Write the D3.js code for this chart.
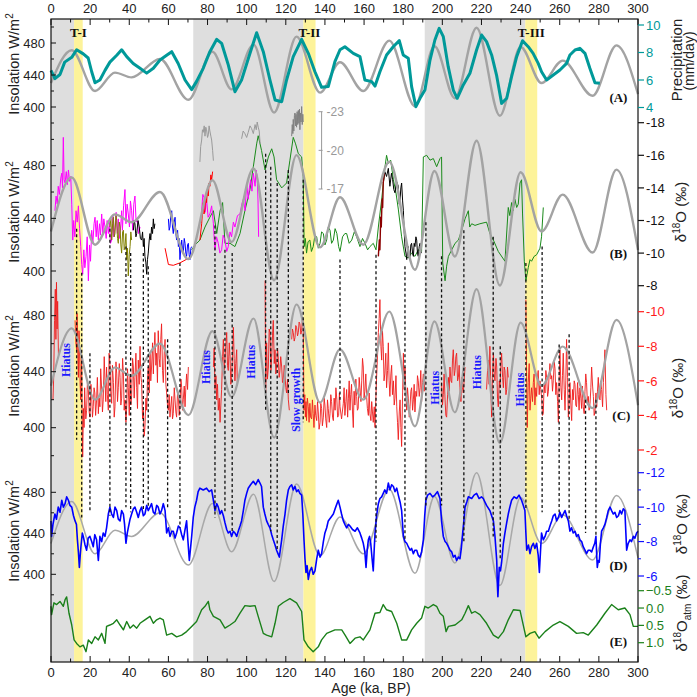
<!DOCTYPE html>
<html><head><meta charset="utf-8">
<script src="https://cdn.jsdelivr.net/npm/d3@7/dist/d3.min.js"></script>
<style>body{margin:0;background:#fff}svg{display:block}</style>
</head><body><svg id="c" width="697" height="697" font-family="Arial, 'Liberation Sans', sans-serif"></svg>
<script>
// ---------- DATA ----------
const ageTicks = d3.range(0, 301, 20);
const grayBands = [[0, 11.8], [72.7, 129], [191, 242.4]];
const yellowBands = [[11.8, 16.2], [129, 135.2], [242.4, 248.5]];
const terminations = [["T-I", 14], ["T-II", 132.1], ["T-III", 245.5]];

// insolation extrema (ka, W/m2)
const insolation = [[0,430],[10.6,471],[22.5,420],[32.7,443],[41.2,437],[55.7,460],[70.2,409],[82.5,469],[92.3,422],[103.5,478],[114,393],[125.5,488],[137.5,418],[147.7,456],[159.6,420],[172.9,483],[186,401],[196,476],[206.4,411],[217.5,499],[229.4,389],[240,475],[250.7,430],[261.5,458],[276.8,414],[289,477],[300,416]];

// (A) precipitation mm/day
const precip = [[0,6.7],[2,6.1],[4.6,6.4],[7,7.3],[10.6,7.65],[13.1,8.2],[16.5,7.9],[19,7.6],[20.8,6.6],[22.5,5.8],[25,6.0],[27.6,6.7],[30.1,7.3],[33.6,7.8],[36.1,8.2],[38.7,7.7],[42,7.2],[45.5,6.85],[48.9,6.5],[52.3,6.85],[55.7,7.45],[59.1,7.8],[61.7,8.06],[65,7.2],[68.5,6.0],[71.9,5.3],[74.4,5.9],[77.8,6.85],[81.2,8.06],[84.7,8.96],[87.2,8.67],[90.6,7.1],[94,5.15],[97.4,6.0],[101.7,7.94],[105.1,9.44],[108.5,8.06],[111.9,6.0],[114.5,4.55],[117.9,4.42],[120.4,6.0],[123.8,7.7],[128.1,8.96],[131.5,7.94],[134.9,6.6],[138.3,5.47],[141.7,5.52],[145.1,7.33],[147.7,8.2],[150.2,8.42],[154.5,7.94],[157.9,7.7],[160.4,6.0],[163.9,5.88],[165.6,5.56],[168.1,6.6],[171.5,7.82],[174.9,8.42],[178,8.86],[180,7.82],[182.6,7.58],[184.3,5.52],[186.5,4.06],[188.6,4.67],[191.1,5.27],[193.7,7.45],[196.2,8.91],[198.4,9.76],[200.5,9.15],[203,6.97],[205.6,5.27],[207.6,4.67],[210.7,5.64],[214.1,6.49],[217.5,8.18],[220.1,9.27],[222.6,8.79],[225.2,7.82],[227.7,6.36],[230.3,4.3],[232.9,4.67],[235.4,6.24],[238,7.7],[241,8.86],[243.9,8.42],[246.4,7.94],[249,7.21],[250.7,6.6],[253.3,6.0],[256.7,6.36],[260.1,6.73],[263.5,7.21],[265.2,7.82],[267.8,8.18],[270.3,8.3],[272.9,7.94],[275.4,6.85],[278,5.8],[280.5,5.76]];

// (B) speleothem d18O records
const magentaB1 = [[2.0,-12.6],[2.6,-13.5],[3.2,-13.0],[3.7,-14.1],[4.3,-13.6],[5.0,-14.6],[5.5,-14.9],[5.9,-14.0],[6.3,-17.1],[6.7,-14.5],[7.2,-14.3],[7.8,-15.0],[8.4,-14.2],[8.9,-15.1],[9.5,-14.4],[10.1,-14.7],[10.6,-13.0],[11.1,-10.8],[11.6,-12.0],[12.2,-11.0],[12.8,-12.6],[13.4,-11.9],[14.0,-12.9],[14.6,-11.5],[15.2,-10.4],[15.7,-9.3],[16.2,-8.7],[16.8,-10.2],[17.3,-9.1],[17.9,-9.8],[18.5,-11.0],[19.1,-8.3],[19.7,-10.5],[20.2,-9.5],[20.8,-11.4],[21.4,-10.6],[22.0,-11.8],[22.5,-12.2],[23.1,-11.0],[23.6,-12.0],[24.2,-10.8],[24.8,-11.8],[25.3,-11.1],[25.9,-12.4],[26.5,-11.2],[27.0,-12.1],[27.6,-11.6],[28.2,-10.9],[28.7,-12.0],[29.3,-11.2],[29.9,-11.9],[30.4,-10.6],[31.0,-10.8],[31.6,-12.3],[32.1,-11.0],[32.7,-11.6],[33.3,-12.5],[33.9,-11.2],[34.4,-12.1],[35.0,-10.9],[35.6,-11.6],[36.1,-12.6],[36.5,-11.4],[37.1,-12.9],[37.8,-13.9],[38.3,-11.8],[38.9,-13.0],[39.5,-12.4],[40.1,-11.6],[40.6,-13.2],[41.2,-12.6],[41.8,-11.4],[42.3,-13.0],[42.9,-13.5],[43.5,-11.9],[44.1,-12.0],[44.7,-11.2],[45.5,-11.6]];
const oliveB = [[30.1,-11.6],[30.6,-12.1],[31.0,-10.8],[31.5,-11.8],[31.9,-12.2],[32.3,-11.0],[32.7,-11.2],[33.2,-12.3],[33.6,-12.0],[34.0,-10.9],[34.4,-10.6],[34.9,-11.9],[35.3,-11.6],[35.7,-10.5],[36.1,-10.0],[36.6,-11.3],[37.0,-11.4],[37.4,-10.2],[37.8,-10.4],[38.3,-11.2],[38.7,-9.6],[39.1,-10.3],[39.5,-8.6],[40.0,-9.9],[40.4,-10.4],[40.8,-11.3],[41.2,-10.8]];
const blackB1 = [[42.1,-11.4],[42.5,-12.0],[42.9,-11.8],[43.4,-11.0],[43.8,-11.2],[44.5,-12.0],[45.1,-11.6],[45.7,-10.9],[46.3,-10.8],[46.8,-11.3],[47.2,-10.4],[47.6,-10.9],[48.0,-9.8],[48.5,-9.4],[48.9,-8.7],[49.3,-9.6],[49.7,-10.0],[50.2,-10.8],[50.6,-11.2],[51.0,-10.8],[51.4,-11.6],[51.9,-11.2],[52.3,-12.1],[52.7,-11.5],[53.1,-11.8]];
const blueB = [[60.0,-12.1],[60.4,-11.4],[60.8,-11.6],[61.2,-12.3],[61.7,-12.6],[62.1,-11.6],[62.5,-11.2],[63.0,-11.9],[63.4,-12.2],[63.8,-11.2],[64.2,-10.8],[64.7,-11.4],[65.1,-10.4],[65.5,-10.9],[65.9,-9.6],[66.4,-10.3],[66.8,-10.8],[67.2,-10.2],[67.6,-10.0],[68.1,-10.9],[68.5,-10.6],[68.9,-10.0],[69.3,-9.8],[69.8,-10.5],[70.2,-10.6],[70.6,-9.9],[71.0,-9.6],[71.5,-10.3],[71.9,-10.4]];
const redB1 = [[58.3,-10.3],[60.0,-9.3],[62.5,-9.25],[65.9,-9.4],[69.0,-9.6],[71.9,-9.8]];
const redB2 = [[76.1,-10.8],[77.0,-11.8],[77.4,-12.5],[77.8,-13.1],[78.2,-12.4],[78.7,-12.7],[79.1,-13.6],[79.5,-13.1],[80.0,-13.9],[80.4,-13.5],[80.8,-14.3],[81.2,-14.1],[81.7,-14.8],[82.1,-14.5],[82.6,-15.0]];
const magentaB2 = [[77.0,-12.6],[77.6,-13.6],[78.2,-13.4],[78.8,-12.5],[79.5,-13.3],[80.3,-12.2],[81.2,-12.4],[82.1,-12.9],[83.0,-11.8],[83.4,-10.9],[83.8,-10.2],[84.6,-11.0],[85.5,-10.6],[86.3,-10.0],[87.2,-10.2],[88.0,-11.1],[88.9,-10.8],[89.8,-10.1],[90.6,-10.4],[91.5,-11.3],[92.3,-11.0],[93.2,-11.9],[94.0,-11.6],[95.3,-12.3],[96.6,-12.4],[97.5,-13.0],[98.3,-13.3],[99.2,-12.6],[100.0,-14.3],[100.8,-13.3],[101.4,-14.0],[102.0,-14.5],[102.7,-13.8],[103.4,-14.9],[104.3,-14.1],[104.8,-15.1],[105.4,-14.7],[105.8,-13.2],[106.1,-11.0]];
const greenB = [[71.9,-10.2],[73.6,-10.5],[76.1,-10.8],[78.7,-11.6],[81.2,-12.2],[83.0,-12.6],[84.7,-11.2],[86.4,-12.6],[87.7,-13.1],[88.9,-10.6],[91.5,-10.6],[94.0,-10.4],[96.6,-11.2],[99.1,-12.6],[101.7,-13.9],[103.4,-15.3],[105.1,-16.7],[105.9,-17.2],[107.6,-16.3],[109.4,-15.1],[111.1,-15.9],[112.8,-16.4],[114.0,-15.9],[115.3,-14.5],[117.9,-14.0],[120.4,-14.3],[122.1,-15.7],[123.8,-17.1],[125.0,-16.7],[126.4,-16.1],[128.1,-15.9],[128.9,-14.7],[129.4,-10.4],[130.0,-10.9],[130.6,-10.0],[131.4,-10.7],[132.3,-10.8],[133.1,-10.1],[134.0,-10.4],[134.9,-11.1],[135.8,-11.0],[136.6,-10.3],[137.5,-10.6],[138.3,-11.3],[139.2,-11.2],[140.0,-10.5],[140.9,-10.8],[141.7,-11.6],[142.6,-11.4],[143.4,-10.6],[144.3,-10.8],[145.2,-11.5],[146.1,-11.2],[147.0,-10.4],[147.7,-10.1],[149.0,-11.0],[150.2,-11.2],[151.1,-11.2],[152.4,-10.6],[153.7,-10.8],[155.0,-11.3],[156.2,-11.0],[157.9,-10.4],[159.2,-10.9],[160.5,-10.6],[161.8,-10.2],[163.0,-10.4],[164.7,-10.6],[166.1,-10.2],[167.3,-11.6],[169.0,-13.3],[170.7,-15.3],[171.5,-16.0],[172.4,-15.5],[173.6,-15.7],[175.0,-14.5],[176.3,-13.7],[177.5,-12.7],[179.2,-11.0],[180.9,-9.8],[182.6,-9.7],[184.3,-10.0],[186.0,-9.8],[187.7,-10.2],[189.4,-10.1],[190.3,-15.9],[192.0,-16.0],[193.7,-15.7],[195.4,-15.8],[197.1,-15.3],[198.8,-15.8],[199.6,-15.9],[200.2,-9.4],[201.4,-8.3],[202.2,-9.2],[203.1,-9.8],[204.8,-10.2],[206.5,-10.6],[208.2,-10.8],[209.9,-11.4],[211.6,-12.1],[213.3,-12.6],[214.0,-11.6],[215.0,-11.8],[216.7,-11.7],[219.2,-11.8],[222.6,-11.9],[224.3,-11.2],[226.1,-10.8],[228.6,-10.1],[232.0,-9.5],[233.7,-12.8],[234.5,-12.3],[235.4,-13.1],[236.2,-12.6],[237.1,-13.3],[238.0,-12.8],[238.8,-13.0],[239.7,-14.3],[240.5,-14.5],[241.0,-12.4],[241.9,-9.5],[242.7,-8.3],[243.9,-9.1],[244.8,-9.6],[245.6,-9.5],[246.9,-9.8],[248.2,-9.9],[249.9,-10.3],[250.7,-11.0],[251.6,-12.8]];
const blackB2 = [[169.8,-14.3],[170.6,-15.0],[171.5,-14.7],[172.4,-15.2],[173.2,-14.1],[174.0,-14.9],[174.6,-14.5],[175.2,-13.9],[175.8,-13.7],[176.6,-14.4],[177.5,-14.1],[178.0,-13.0],[178.4,-13.3],[178.8,-14.0],[179.2,-14.3],[179.7,-13.2],[180.1,-12.6],[180.5,-11.3],[180.9,-10.4],[181.4,-10.0],[181.8,-9.6],[182.2,-10.2],[182.6,-10.4],[183.0,-9.7],[183.5,-9.8],[183.9,-10.5],[184.3,-10.6],[184.8,-10.0],[185.2,-9.8],[185.6,-10.6],[186.0,-10.4],[186.5,-11.0],[186.9,-10.8],[187.3,-10.0],[187.7,-9.8],[188.2,-10.4],[188.6,-10.6],[189.0,-10.1],[189.4,-10.0]];
const darkRedB = [[167.3,-9.8],[167.8,-10.8],[168.1,-10.2],[168.5,-12.2],[168.8,-11.6],[169.2,-13.3],[169.5,-12.8],[169.8,-14.3],[170.3,-14.9]];
// grey inset (secondary d18O axis, -23..-17)
const grayInset1 = [[76.1,-19.1],[76.5,-20.3],[77.0,-20.8],[77.4,-21.6],[77.8,-21.4],[78.3,-21.9],[78.7,-21.1],[79.1,-21.8],[79.5,-21.6],[80.0,-21.0],[80.4,-21.2],[80.8,-21.9],[81.2,-21.5],[81.7,-21.1],[82.1,-20.8],[82.6,-20.0],[83.0,-19.2]];
const grayInset2 = [[97.4,-20.9],[98.2,-21.5],[99.1,-21.3],[100.0,-21.0],[100.8,-21.4],[101.7,-21.9],[102.5,-21.7],[103.4,-21.3],[104.3,-22.0],[104.9,-21.6],[105.4,-22.2],[105.9,-21.8],[106.4,-21.5],[106.9,-20.5]];
const grayInset3 = [[123.0,-21.1],[123.3,-22.0],[123.6,-21.3],[123.8,-22.4],[124.1,-21.5],[124.4,-22.7],[124.7,-22.9],[125.0,-21.9],[125.2,-22.8],[125.5,-21.8],[125.8,-23.0],[126.1,-22.0],[126.4,-23.1],[126.7,-22.1],[127.0,-23.2],[127.2,-21.6],[127.5,-22.9],[127.8,-22.2],[128.1,-23.4],[128.4,-22.0],[128.7,-22.8],[128.9,-22.2]];

// (C) red d18O record, null = hiatus
const redC = [[1.0,-4.9],[1.4,-6.3],[1.8,-9.5],[2.2,-11.3],[2.5,-8.4],[2.8,-11.7],[3.1,-9.0],[3.4,-10.6],[3.8,-7.5],[4.0,null],
[12.3,-9.5],[12.7,-8.2],[13.1,-7.8],[13.3,-9.9],[13.5,-9.1],[13.8,-7.0],[14.0,-6.2],[14.3,-8.9],[14.5,-8.4],[14.9,-5.8],[15.2,-4.9],[15.5,-7.4],[15.7,-6.8],[16.0,-3.0],[16.2,-1.6],[16.6,-4.4],[16.9,-3.3],[17.2,-5.6],[17.4,-4.9],[17.8,-3.8],[18.2,-4.3],[18.6,-5.9],[19.1,-5.5],[19.5,-4.2],[19.9,-3.9],[20.4,-5.8],[20.8,-5.1],[21.2,-3.9],[21.6,-4.5],[22.0,-5.6],[22.4,-5.3],[22.8,-4.0],[23.3,-4.9],[23.7,-6.2],[24.2,-4.1],[24.6,-5.0],[25.0,-4.5],[25.4,-6.7],[25.9,-5.5],[26.3,-4.2],[26.7,-4.9],[27.2,-7.4],[27.6,-6.0],[28.0,-4.8],[28.4,-6.8],[28.8,-5.2],[29.3,-4.3],[29.7,-7.6],[30.1,-7.0],[30.5,-5.4],[31.0,-4.7],[31.4,-6.9],[31.9,-5.9],[32.3,-3.9],[32.7,-4.5],[33.2,-7.1],[33.6,-6.4],[34.0,-4.8],[34.4,-5.6],[34.9,-7.0],[35.3,-6.2],[35.7,-4.6],[36.1,-5.0],[36.6,-7.3],[37.0,-6.4],[37.4,-4.3],[37.8,-4.9],[38.3,-3.6],[38.7,-4.5],[39.1,-6.7],[39.5,-5.6],[40.0,-4.0],[40.4,-6.4],[40.8,-4.6],[41.2,-5.1],[41.7,-7.3],[42.1,-6.8],[42.5,-5.0],[42.9,-6.2],[43.4,-7.6],[43.8,-5.6],[44.2,-4.4],[44.6,-7.2],[45.1,-5.8],[45.5,-8.0],[45.9,-6.3],[46.3,-5.9],[46.8,-3.8],[47.2,-4.3],[47.6,-2.8],[48.0,-3.3],[48.5,-5.0],[48.9,-4.3],[49.3,-6.0],[49.7,-6.8],[50.2,-5.3],[50.6,-7.6],[51.0,-6.0],[51.4,-6.8],[51.9,-8.2],[52.3,-6.4],[52.7,-7.8],[53.1,-8.8],[53.6,-6.9],[54.0,-7.6],[54.4,-5.9],[54.8,-8.9],[55.3,-7.3],[55.7,-6.8],[56.1,-8.4],[56.5,-9.3],[57.0,-6.6],[57.4,-5.9],[57.9,-7.7],[58.3,-8.4],[58.7,-5.8],[59.1,-5.3],[59.6,-4.5],[60.0,-4.3],[60.4,-5.2],[60.8,-3.9],[61.3,-4.6],[61.7,-5.1],[62.1,-3.8],[62.5,-4.1],[63.0,-5.6],[63.4,-4.9],[63.8,-4.2],[64.2,-3.9],[64.7,-5.4],[65.1,-5.1],[65.5,-4.0],[65.9,-4.5],[66.4,-6.1],[66.8,-5.6],[67.2,-4.3],[67.6,-4.9],[68.1,-5.7],[68.5,-4.5],[68.9,-5.6],[69.3,-6.4],[69.8,-5.5],[70.2,-6.8],[70.5,null],
[83.0,-6.8],[83.4,-7.9],[83.8,-5.5],[84.3,-6.3],[84.7,-4.9],[85.1,-5.8],[85.5,-4.3],[86.0,-5.0],[86.4,-3.6],[86.8,-4.6],[87.2,-5.5],[87.7,-7.4],[88.1,-8.4],[88.5,-6.6],[88.9,-7.2],[89.3,-8.0],[89.8,-8.8],[90.2,-6.9],[90.6,-6.6],[91.1,-8.2],[91.5,-7.4],[91.9,-5.8],[92.3,-6.2],[92.8,-7.6],[93.2,-9.1],[93.6,-7.3],[94.0,-6.0],[94.4,-7.0],[94.9,-7.8],[95.2,-5.9],[96,null],
[109.4,-11.8],[109.7,-5.3],[110.2,-8.2],[110.6,-6.1],[111.1,-6.8],[111.5,-9.0],[111.9,-8.8],[112.4,-6.6],[112.8,-7.4],[113.2,-8.6],[113.6,-9.5],[114.1,-7.0],[114.5,-7.8],[114.9,-6.4],[115.3,-6.8],[115.8,-7.9],[116.2,-7.2],[116.6,-6.2],[117.0,-6.6],[117.4,-7.4],[117.9,-6.8],[118.3,-5.9],[118.7,-6.0],[119.2,-6.9],[119.6,-6.4],[120.0,-5.6],[120.4,-5.3],[120.9,-6.1],[121.3,-4.9],[121.8,-4.3],[122.3,null],
[123.0,-8.4],[123.4,-9.0],[123.8,-8.8],[124.3,-8.3],[124.7,-8.5],[125.1,-9.2],[125.5,-9.1],[126.0,-8.6],[126.4,-8.8],[126.8,-9.4],[127.2,-9.3],[127.7,-8.7],[128.1,-8.9],[128.5,-9.6],[128.9,-9.5],[129.3,-4.3],[129.7,-5.2],[130.0,-3.9],[130.3,-4.8],[130.6,-3.7],[131.0,-5.0],[131.5,-4.5],[131.9,-3.6],[132.3,-4.7],[132.7,-3.9],[133.2,-3.8],[133.6,-4.9],[134.0,-4.1],[134.4,-3.3],[134.9,-4.6],[135.3,-4.0],[135.8,-3.7],[136.2,-4.8],[136.6,-4.2],[137.0,-3.2],[137.5,-3.6],[137.9,-4.7],[138.3,-4.4],[138.7,-3.4],[139.2,-3.9],[139.6,-5.0],[140.0,-4.6],[140.4,-3.8],[140.9,-3.3],[141.3,-4.9],[141.7,-4.4],[142.2,-3.6],[142.6,-4.1],[143.0,-5.2],[143.4,-4.8],[143.9,-3.9],[144.3,-3.7],[144.7,-5.0],[145.2,-4.3],[145.6,-5.6],[146.1,-4.9],[146.5,-3.9],[147.0,-4.0],[147.4,-5.3],[147.7,-4.5],[148.5,-3.8],[149.4,-4.7],[149.8,-5.6],[150.2,-4.0],[150.7,-4.8],[151.1,-5.5],[151.6,-3.9],[152.0,-5.0],[152.4,-6.0],[152.8,-4.3],[153.2,-5.2],[153.6,-5.8],[154.1,-4.2],[154.5,-3.3],[154.9,-5.4],[155.3,-4.6],[155.8,-6.1],[156.2,-5.1],[156.6,-4.3],[157.0,-4.4],[157.5,-6.2],[157.9,-5.6],[158.4,-4.8],[158.8,-6.0],[159.2,-7.3],[159.6,-6.8],[160.0,-5.0],[160.4,-5.4],[160.9,-6.4],[161.3,-5.1],[161.7,-4.4],[162.2,-4.0],[162.6,-5.3],[163.0,-4.1],[163.5,-3.7],[163.9,-4.8],[164.3,-4.2],[164.7,-3.6],[165.2,-4.5],[165.6,-3.3],[166.0,-4.9],[166.4,-6.2],[166.9,-7.5],[167.3,-8.8],[167.7,-9.6],[168.1,-10.7],[168.6,-8.0],[169.0,-7.2],[169.4,-8.9],[169.8,-8.0],[170.2,-6.0],[170.6,-6.4],[171.1,-7.6],[171.5,-5.6],[172.0,-6.6],[172.4,-8.2],[172.8,-6.0],[173.2,-5.1],[173.7,-6.4],[174.1,-6.9],[174.5,-5.2],[175.0,-6.0],[175.4,-4.6],[175.8,-5.0],[176.3,-6.3],[176.7,-4.5],[177.1,-3.6],[177.5,-2.6],[178.0,-4.2],[178.4,-4.9],[178.8,-3.3],[179.2,-2.2],[179.7,-5.3],[180.1,-7.6],[180.5,-5.5],[180.9,-6.8],[181.4,-5.1],[181.8,-4.3],[182.2,-5.6],[182.6,-5.0],[183.1,-3.9],[183.5,-4.5],[183.9,-5.4],[184.3,-5.6],[184.8,-4.3],[185.2,-4.9],[185.6,-5.8],[186.0,-4.2],[186.5,-5.4],[186.9,-5.1],[187.3,-6.3],[187.7,-6.0],[188.2,-5.1],[188.6,-5.6],[189.0,-6.6],[189.4,-4.8],[189.9,-5.9],[190.3,-6.4],[190.7,-5.4],[191.1,-6.0],[191.6,null],
[199.6,-5.9],[200.1,-4.6],[200.5,-5.2],[200.9,-6.4],[201.4,-4.9],[201.8,-4.0],[202.2,-3.9],[202.7,-5.2],[203.1,-6.2],[203.5,-5.4],[203.9,-6.8],[204.4,-6.0],[204.8,-5.9],[205.2,-7.2],[205.6,-7.8],[206.1,-6.3],[206.5,-6.6],[206.9,-7.4],[207.3,-7.6],[207.8,-6.0],[208.2,-6.2],[208.6,-6.9],[209.0,-5.6],[209.5,-4.8],[209.9,-6.2],[210.3,-5.6],[210.7,-5.3],[211.2,-6.1],[211.6,-6.8],[212,null],
[222.6,-5.5],[223.1,-6.6],[223.5,-7.2],[223.9,-5.8],[224.3,-8.0],[224.8,-5.5],[225.2,-3.9],[225.6,-6.2],[226.1,-7.6],[226.5,-6.4],[226.9,-6.0],[227.4,-7.3],[227.8,-6.8],[228.2,-5.0],[228.6,-4.5],[229.1,-6.0],[229.5,-5.6],[229.9,-6.9],[230.3,-7.6],[230.8,-6.2],[231.2,-5.6],[231.6,-6.8],[232.0,-6.6],[232.5,-5.2],[232.9,-5.5],[233.3,-6.8],[233.7,-6.2],[234.2,null],
[242.7,-10.7],[243.1,-6.0],[243.4,-3.3],[243.9,-5.9],[244.4,-7.0],[244.8,-4.3],[245.2,-5.0],[245.6,-5.6],[246.1,-4.8],[246.5,-5.9],[246.9,-6.4],[247.3,-4.6],[247.8,-5.6],[248.2,-5.1],[248.6,-6.2],[249.0,-6.6],[249.5,-5.2],[249.9,-6.0],[250.3,-5.5],[250.8,-5.0],[251.2,-4.0],[251.6,-4.1],[252.0,-5.8],[252.5,-5.3],[252.9,-6.6],[253.3,-6.2],[253.8,-5.1],[254.2,-5.4],[254.6,-6.4],[255.0,-7.0],[255.5,-6.1],[255.9,-6.3],[256.3,-5.4],[256.7,-6.0],[257.2,-7.1],[257.6,-6.7],[258.0,-5.2],[258.4,-5.9],[258.9,-4.8],[259.3,-3.6],[259.7,-6.1],[260.1,-7.8],[260.6,-5.6],[261.0,-4.9],[261.4,-6.3],[261.8,-7.6],[262.3,-5.5],[262.7,-4.3],[263.1,-6.0],[263.5,-8.4],[264.0,-6.2],[264.4,-3.9],[264.8,-4.8],[265.2,-5.9],[265.7,-4.6],[266.1,-3.7],[266.5,-5.5],[266.9,-4.9],[267.4,-6.0],[267.8,-5.8],[268.2,-4.6],[268.6,-4.5],[269.1,-5.9],[269.5,-5.2],[269.9,-4.3],[270.3,-5.6],[270.8,-5.0],[271.2,-4.4],[271.6,-5.7],[272.0,-4.5],[272.5,-4.1],[272.9,-5.4],[273.3,-6.4],[273.7,-5.9],[274.2,-4.6],[274.6,-5.1],[275.0,-4.3],[275.5,-4.7],[275.9,-5.6],[276.3,-6.8],[276.8,-5.7],[277.2,-5.1],[277.6,-4.0],[278.0,-4.2],[278.5,-5.3],[278.9,-4.5],[279.3,-5.4],[279.7,-6.2],[280.2,-5.0],[280.6,-4.9],[281.0,-6.0],[281.4,-5.5],[281.9,-4.5],[282.3,-5.9],[282.7,-6.8],[283.1,-7.8],[283.6,-5.2],[284.0,-4.3]];

// (D) blue d18O record
const blueD = [[0,-9.2],[0.3,-8.3],[1.0,-9.0],[2.0,-9.6],[2.8,-9.3],[3.7,-10.0],[4.6,-9.7],[5.5,-10.4],[6.3,-10.0],[7.2,-10.2],[8.0,-10.6],[8.9,-10.4],[9.7,-10.1],[10.6,-10.0],[11.5,-9.5],[12.3,-9.2],[13.0,-9.0],[13.5,-8.1],[14.0,-7.4],[14.5,-6.5],[15.0,-7.3],[15.3,-7.7],[16.0,-8.5],[16.5,-8.3],[17.4,-7.8],[18.2,-7.5],[19.0,-8.2],[19.9,-8.3],[20.8,-8.0],[21.6,-7.7],[22.4,-8.4],[23.3,-8.1],[24.2,-6.9],[25.0,-8.3],[25.9,-8.0],[26.7,-8.5],[27.6,-8.3],[28.4,-8.8],[29.3,-9.6],[30.1,-10.0],[31.0,-9.6],[31.9,-9.4],[32.7,-10.0],[33.6,-9.8],[34.4,-9.3],[35.3,-9.2],[36.1,-9.8],[37.0,-9.6],[37.6,-9.0],[38.3,-7.9],[39.0,-8.5],[39.5,-8.8],[40.4,-9.3],[41.2,-9.6],[42.1,-9.9],[42.9,-10.0],[43.8,-9.7],[44.6,-9.4],[45.5,-9.8],[46.3,-10.0],[47.2,-9.5],[48.0,-9.6],[48.9,-10.1],[49.7,-9.8],[50.6,-10.0],[51.4,-10.2],[52.3,-9.7],[53.1,-9.6],[54.0,-10.1],[54.8,-10.0],[55.7,-9.6],[56.5,-9.8],[57.4,-10.2],[58.3,-9.8],[59.1,-8.5],[60.0,-8.8],[60.8,-8.3],[61.7,-8.6],[62.5,-8.6],[63.4,-8.2],[64.2,-8.5],[65.1,-8.9],[65.9,-8.8],[66.8,-8.4],[67.6,-8.1],[68.5,-8.7],[69.3,-9.2],[70.0,-8.0],[70.7,-6.9],[71.3,-7.6],[71.9,-8.3],[72.7,-9.4],[73.5,-10.0],[74.4,-10.4],[75.2,-10.9],[76.1,-11.1],[77.8,-11.0],[79.5,-11.1],[80.8,-10.9],[82.1,-11.0],[83.0,-10.4],[83.8,-9.8],[84.7,-10.2],[85.5,-10.0],[86.4,-9.6],[87.2,-9.8],[88.1,-9.5],[88.9,-9.1],[89.8,-8.7],[90.6,-8.5],[91.5,-8.6],[92.3,-8.3],[93.2,-8.6],[94.0,-8.5],[94.9,-8.3],[95.7,-8.6],[96.6,-8.9],[97.4,-9.2],[98.3,-9.8],[99.1,-10.4],[100.0,-10.8],[100.8,-11.1],[102.0,-11.3],[103.4,-11.5],[104.6,-11.3],[105.9,-11.6],[106.8,-11.4],[107.6,-11.2],[108.5,-10.0],[109.3,-9.6],[110.2,-9.2],[111.0,-9.0],[111.9,-8.8],[112.8,-8.4],[113.6,-8.1],[114.5,-7.8],[115.3,-7.5],[116.0,-7.3],[116.7,-7.1],[117.3,-7.6],[117.9,-8.1],[118.7,-8.9],[119.6,-9.6],[120.4,-10.4],[121.3,-11.0],[122.1,-11.2],[123.0,-11.3],[123.8,-11.0],[124.7,-11.2],[125.5,-10.9],[126.4,-11.0],[127.2,-10.8],[128.1,-10.7],[128.7,-9.6],[129.3,-8.1],[129.8,-7.0],[130.3,-6.2],[130.9,-6.6],[131.5,-5.8],[132.3,-6.3],[133.2,-6.5],[134.0,-6.1],[134.9,-6.3],[135.8,-7.0],[136.6,-7.5],[137.5,-7.1],[138.3,-7.3],[139.2,-8.0],[140.0,-8.5],[140.9,-8.8],[141.7,-9.2],[143.0,-9.4],[144.3,-9.6],[145.5,-10.0],[146.8,-10.4],[147.7,-10.0],[148.5,-9.6],[149.4,-9.2],[150.2,-9.0],[151.1,-8.8],[152.0,-9.0],[152.8,-8.9],[154.1,-8.7],[155.4,-8.6],[156.6,-8.8],[157.9,-8.5],[158.8,-8.2],[159.6,-7.9],[160.4,-7.4],[161.0,-6.5],[161.6,-7.5],[162.2,-8.1],[162.8,-8.3],[163.4,-7.9],[164.1,-7.0],[164.7,-6.3],[165.2,-7.6],[165.6,-8.5],[166.4,-9.5],[167.3,-10.2],[168.1,-10.5],[169.0,-10.6],[170.6,-11.0],[171.5,-10.8],[172.4,-11.4],[173.2,-11.0],[174.1,-11.3],[175.0,-11.2],[175.8,-10.9],[176.7,-11.1],[177.5,-10.7],[178.4,-10.3],[179.2,-9.8],[180.1,-8.3],[180.9,-8.0],[181.8,-7.9],[182.6,-7.7],[183.5,-7.5],[184.3,-7.6],[185.2,-7.3],[186.0,-7.5],[186.9,-7.5],[187.7,-7.2],[188.6,-7.1],[189.4,-7.4],[190.3,-8.1],[191.0,-9.5],[191.6,-10.4],[192.5,-10.7],[193.7,-10.8],[195.0,-10.6],[196.2,-10.7],[197.5,-10.9],[198.8,-10.5],[199.6,-9.2],[200.5,-8.3],[201.4,-8.0],[202.2,-7.9],[203.1,-7.7],[203.9,-7.5],[204.8,-7.4],[205.6,-7.1],[206.5,-7.2],[207.3,-6.9],[208.2,-7.1],[209.0,-7.0],[209.7,-7.6],[210.4,-8.5],[211.0,-9.2],[211.6,-10.0],[212.5,-10.3],[213.3,-10.6],[215.0,-10.5],[216.2,-10.7],[217.5,-10.8],[218.8,-10.5],[220.0,-10.6],[220.9,-10.5],[222.6,-10.1],[224.3,-9.8],[225.2,-9.5],[226.1,-9.2],[226.9,-8.3],[227.8,-6.9],[228.1,-5.6],[228.4,-4.8],[228.8,-5.8],[229.1,-6.5],[229.7,-6.3],[230.3,-6.8],[231.2,-7.9],[232.0,-8.5],[232.9,-9.1],[233.7,-9.6],[234.5,-10.0],[235.4,-10.4],[236.7,-10.6],[238.0,-10.5],[239.2,-10.7],[240.5,-10.4],[241.4,-10.1],[242.2,-9.8],[242.7,-8.5],[243.1,-7.5],[244.0,-7.8],[244.8,-7.3],[245.6,-7.7],[246.5,-7.9],[247.3,-7.6],[248.2,-7.9],[249.0,-7.2],[249.6,-6.2],[250.2,-7.5],[250.7,-8.5],[251.6,-8.1],[252.5,-8.3],[253.3,-8.6],[254.2,-8.6],[255.0,-8.9],[255.9,-9.2],[256.7,-9.5],[257.6,-9.6],[258.4,-9.2],[259.3,-9.4],[260.1,-9.7],[261.0,-9.4],[261.8,-9.6],[262.7,-9.8],[263.5,-9.5],[264.4,-9.2],[265.2,-8.6],[266.0,-8.8],[266.9,-8.5],[267.8,-8.6],[268.6,-8.3],[269.5,-8.4],[270.3,-8.1],[271.2,-8.0],[272.0,-7.7],[272.9,-7.5],[273.7,-7.3],[274.6,-7.5],[275.4,-7.5],[276.3,-7.4],[277.2,-7.7],[277.9,-7.9],[278.5,-8.3],[278.9,-7.2],[279.2,-6.5],[279.7,-6.9],[280.2,-6.8],[280.8,-7.9],[281.4,-8.6],[282.3,-8.8],[283.1,-9.0],[284.0,-9.4],[284.8,-9.8],[285.7,-10.0],[286.5,-9.8],[287.4,-9.6],[288.2,-9.7],[289.1,-9.4],[290.0,-9.5],[290.8,-9.8],[291.6,-9.6],[292.5,-9.9],[293.3,-9.8],[293.8,-8.5],[294.2,-7.5],[295.0,-7.9],[295.9,-8.1],[296.7,-8.0],[297.6,-8.3],[298.4,-8.2],[299.3,-8.5],[300,-8.6]];

// (E) d18O atm
const atmE = [[0,-0.05],[0.3,0.19],[1.5,-0.15],[2.9,-0.10],[4.6,-0.19],[6.3,-0.05],[7.2,-0.24],[8.0,-0.32],[9.2,0.15],[10.6,0.49],[11.8,0.92],[13.1,1.02],[14.8,1.12],[16.5,1.07],[17.9,1.26],[19.1,0.92],[20.8,1.02],[22.5,0.83],[24.2,0.92],[25.9,0.73],[27.6,1.02],[28.4,0.53],[30.1,0.49],[31.9,0.44],[33.6,0.34],[35.3,0.49],[37.0,0.63],[38.7,0.39],[40.4,0.58],[42.1,0.49],[43.8,0.58],[45.5,0.44],[48.0,0.34],[50.6,0.24],[52.3,0.44],[54.0,0.34],[55.7,0.29],[57.4,0.34],[59.1,0.78],[61.7,0.73],[64.2,0.83],[66.8,0.78],[69.3,0.68],[71.9,0.53],[74.4,0.39],[77.0,0.05],[78.7,-0.05],[80.4,-0.19],[81.2,0.05],[83.0,0.24],[84.7,0.29],[86.4,0.34],[88.9,0.58],[91.5,0.49],[94.0,0.39],[96.6,0.15],[99.1,-0.07],[101.7,-0.05],[104.3,-0.07],[105.9,0.24],[108.5,0.73],[110.2,0.78],[112.8,0.83],[114.5,0.44],[116.2,-0.05],[118.7,-0.16],[122.1,-0.27],[125.5,-0.15],[128.1,0.1],[129.3,0.92],[131.5,1.12],[134.0,1.26],[136.6,1.12],[138.3,0.92],[140.9,0.73],[145.1,0.63],[148.6,0.63],[150.3,0.78],[152.8,1.02],[155.4,0.87],[157.9,0.83],[159.6,0.92],[163.0,0.63],[165.6,0.15],[168.1,0.13],[169.8,-0.1],[171.5,0.05],[174.1,0.1],[176.7,0.44],[179.2,0.92],[181.8,0.92],[184.3,0.63],[186.9,0.44],[189.4,0.29],[191.1,-0.05],[192.8,0.0],[195.4,-0.1],[197.1,-0.05],[198.8,0.15],[200.5,0.24],[201.9,0.68],[203.1,0.53],[206.5,0.49],[209.9,0.34],[211.6,0.15],[213.3,-0.07],[215.0,0.15],[216.7,0.1],[219.2,0.19],[222.6,0.44],[226.1,0.78],[228.6,0.87],[231.2,0.68],[233.7,0.34],[236.3,0.05],[239.7,0.07],[242.7,0.83],[244.8,0.73],[247.3,0.68],[249.4,0.87],[252.5,0.68],[256.7,0.49],[260.1,0.39],[264.4,0.53],[268.6,0.73],[272.0,0.71],[274.6,0.78],[278.9,0.49],[283.1,0.15],[286.5,-0.1],[289.9,0.05],[293.3,0.0],[295.9,0.19],[297.6,0.53],[300,0.53]];

// dashed correlation lines: [ka, fromPanel, fromValue, toPanel, toValue]
const tieLines = [[13.1,"B",-11.5,"C",-2.6],[15.7,"B",-8.8,"D",-9.4],[19.9,"C",-7.6,"D",-9.7],[30.1,"B",-11.5,"D",-9.5],[38.3,"B",-10.4,"D",-10.0],[40.7,"B",-10.0,"D",-9.7],[47.2,"B",-10.0,"D",-9.8],[49.7,"B",-9.2,"D",-10.0],[59.6,"C",-8.4,"D",-10.0],[65.9,"B",-9.4,"D",-8.8],[83.8,"B",-11.7,"D",-9.4],[88.9,"B",-10.2,"D",-9.7],[92.6,"B",-10.0,"D",-8.5],[109.7,"B",-16.1,"C",-4.3],[112.3,"B",-15.3,"D",-8.6],[115.6,"B",-14.3,"D",-7.5],[121.3,"B",-15.1,"C",-5.2],[128.9,"B",-14.5,"C",-3.6],[147.7,"B",-9.6,"C",-4.9],[166.1,"B",-9.9,"D",-8.0],[180.9,"B",-9.2,"D",-8.1],[191.6,"B",-11.9,"D",-10.1],[199.6,"B",-9.8,"D",-10.1],[211,"B",-11.4,"D",-8.0],[226,"B",-11.0,"D",-8.3],[229.6,"C",-8.0,"D",-6.9],[242.7,"B",-9.4,"D",-9.8],[251,"B",-10.4,"D",-9.7],[259.7,"C",-8.1,"D",-9.7],[264.8,"C",-8.7,"D",-9.3],[273.2,"C",-4.9,"D",-8.5],[278.5,"C",-4.9,"D",-8.4]];

const hiatusLabels = [["Hiatus",7.5,-7.2],["Hiatus",79.2,-6.8],["Hiatus",102.2,-7.1],["Slow growth",125.2,-4.9],["Hiatus",196.2,-5.6],["Hiatus",217.5,-6.5],["Hiatus",239.7,-5.5]];

// axis tick values
const precipTicks = [10, 8, 6, 4];
const bTicks = [-18, -16, -14, -12, -10, -8];
const cTicks = [-10, -8, -6, -4, -2];
const dTicks = [-12, -10, -8, -6];
const eTicks = [-0.5, 0.0, 0.5, 1.0];
const insolLabels = [400, 440, 480];

// ---------- LAYOUT ----------
const SERIF = "'Liberation Serif','Times New Roman',serif";
const svg = d3.select("#c");
const L = 51, R = 638, T = 19, B = 662;
const x = d3.scaleLinear().domain([0, 300]).range([L, R]);

const P = {
  A: {ins: d3.scaleLinear().domain([400,480]).range([107,43]), v: d3.scaleLinear().domain([4,10]).range([107.5,25]), insTicks: d3.range(380,501,20)},
  B: {ins: d3.scaleLinear().domain([400,480]).range([271,165.7]), v: d3.scaleLinear().domain([-8,-18]).range([285.7,122.7]), insTicks: d3.range(380,501,20)},
  C: {ins: d3.scaleLinear().domain([400,480]).range([427.7,315.7]), v: d3.scaleLinear().domain([-2,-10]).range([450,311.7]), insTicks: d3.range(380,481,20)},
  D: {ins: d3.scaleLinear().domain([400,480]).range([574.3,492.3]), v: d3.scaleLinear().domain([-6,-12]).range([576,472.7]), insTicks: d3.range(380,481,20)},
  E: {v: d3.scaleLinear().domain([1.0,-0.5]).range([642.7,590.7])}
};
const insetY = d3.scaleLinear().domain([-17,-23]).range([189,111.7]);

// shading
svg.selectAll(".gb").data(grayBands).join("rect").attr("x", d=>x(d[0])).attr("width", d=>x(d[1])-x(d[0]))
  .attr("y", T).attr("height", B-T).attr("fill", "#dedede");
svg.selectAll(".yb").data(yellowBands).join("rect").attr("x", d=>x(d[0])).attr("width", d=>x(d[1])-x(d[0]))
  .attr("y", T).attr("height", B-T).attr("fill", "#fdf39a");

function line(data, ys, color, w, curve) {
  svg.append("path").datum(data).attr("fill","none").attr("stroke",color).attr("stroke-width",w)
    .attr("stroke-linejoin","round")
    .attr("d", d3.line().defined(d=>d[1]!=null).x(d=>x(d[0])).y(d=>ys(d[1])).curve(curve||d3.curveLinear));
}
const insCol = "#a3a3a3";

// Panel A
line(insolation, P.A.ins, insCol, 2.4, d3.curveMonotoneX);
line(precip, P.A.v, "#009999", 3);

// Panel B
line(magentaB1, P.B.v, "#ff00ff", 1);
line(oliveB, P.B.v, "#808000", 1);
line(blackB1, P.B.v, "#000", 1);
line(redB1, P.B.v, "#ff0000", 1);
line(blueB, P.B.v, "#0000ff", 1);
line(greenB, P.B.v, "#1a8a1a", 1);
line(magentaB2, P.B.v, "#ff00ff", 1);
line(redB2, P.B.v, "#ff0000", 1);
line(blackB2, P.B.v, "#000", 1);
line(darkRedB, P.B.v, "#8b0000", 1.4);
[grayInset1, grayInset2, grayInset3].forEach((g,i)=>line(g, insetY, i==2?"#808080":"#9a9a9a", 1));
line(insolation, P.B.ins, insCol, 2.4, d3.curveMonotoneX);

// inset axis
const ix = x(138.3);
svg.append("line").attr("x1",ix).attr("x2",ix).attr("y1",insetY(-23)).attr("y2",insetY(-17)).attr("stroke","#999").attr("stroke-width",1);
[-23,-20,-17].forEach(t=>{
  svg.append("line").attr("x1",ix-3).attr("x2",ix+1).attr("y1",insetY(t)).attr("y2",insetY(t)).attr("stroke","#999");
  svg.append("text").attr("x",ix+5).attr("y",insetY(t)).attr("dy","0.35em").attr("font-size",12).attr("fill","#999").text(t);
});

// Panel C
line(redC, P.C.v, "#ee1c1c", 0.9);
line(insolation, P.C.ins, insCol, 2.2, d3.curveMonotoneX);

// Panel D
line(insolation, P.D.ins, "#a8a8a8", 1.5, d3.curveMonotoneX);
line(blueD, P.D.v, "#0000ff", 1.6);

// Panel E
line(atmE, P.E.v, "#1a801a", 1.4);

// tie lines
svg.selectAll(".tie").data(tieLines).join("line")
  .attr("x1", d=>x(d[0])).attr("x2", d=>x(d[0]))
  .attr("y1", d=>P[d[1]].v(d[2])).attr("y2", d=>P[d[3]].v(d[4]))
  .attr("stroke","#111").attr("stroke-width",1.3).attr("stroke-dasharray","3,2.5");

// frame
svg.append("rect").attr("x",L).attr("y",T).attr("width",R-L).attr("height",B-T).attr("fill","none").attr("stroke","#111").attr("stroke-width",1.2);

// top & bottom axes
const axG = svg.append("g");
d3.range(0,301,10).forEach(v=>{
  const major = v%20===0, len = major?6:3.5;
  axG.append("line").attr("x1",x(v)).attr("x2",x(v)).attr("y1",T).attr("y2",T+len).attr("stroke","#111");
  axG.append("line").attr("x1",x(v)).attr("x2",x(v)).attr("y1",B).attr("y2",B-len).attr("stroke","#111");
});
ageTicks.forEach(v=>{
  axG.append("text").attr("x",x(v)).attr("y",T-6).attr("text-anchor","middle").attr("font-size",13).attr("fill","#222").text(v);
  axG.append("text").attr("x",x(v)).attr("y",B+15).attr("text-anchor","middle").attr("font-size",13).attr("fill","#222").text(v);
});
svg.append("text").attr("x",371).attr("y",693).attr("text-anchor","middle").attr("font-size",14).attr("fill","#222").text("Age (ka, BP)");

// left insolation axes
["A","B","C","D"].forEach(k=>{
  const s = P[k].ins;
  P[k].insTicks.forEach(v=>{
    const lab = insolLabels.includes(v);
    svg.append("line").attr("x1",L).attr("x2",L+(lab?5:3)).attr("y1",s(v)).attr("y2",s(v)).attr("stroke","#111");
  });
  insolLabels.forEach(v=>svg.append("text").attr("x",L-6).attr("y",s(v)).attr("dy","0.35em").attr("text-anchor","end").attr("font-size",13).attr("fill","#222").text(v));
});
const insTitleY = {A:64, B:212, C:366, D:531};
Object.entries(insTitleY).forEach(([k,cy])=>{
  const t = svg.append("text").attr("transform",`translate(19,${cy}) rotate(-90)`).attr("text-anchor","middle").attr("font-size",14.5).attr("fill","#222");
  t.append("tspan").text("Insolation W/m");
  t.append("tspan").attr("dy",-6).attr("font-size",10).text("2");
});

// right axes
function rightAxis(scale, ticks, color, fmt, minor) {
  (minor||[]).forEach(v=>svg.append("line").attr("x1",R).attr("x2",R+3).attr("y1",scale(v)).attr("y2",scale(v)).attr("stroke",color));
  ticks.forEach(v=>{
    svg.append("line").attr("x1",R).attr("x2",R+6).attr("y1",scale(v)).attr("y2",scale(v)).attr("stroke",color).attr("stroke-width",1.2);
    svg.append("text").attr("x",R+8).attr("y",scale(v)).attr("dy","0.36em").attr("font-size",13).attr("fill",color).text(fmt(v));
  });
}
rightAxis(P.A.v, precipTicks, "#009999", d=>d);
rightAxis(P.B.v, bTicks, "#111", d=>d);
rightAxis(P.C.v, cTicks, "#ff1a1a", d=>d);
rightAxis(P.D.v, dTicks, "#1010ff", d=>d, [-11,-9,-7]);
rightAxis(P.E.v, eTicks, "#1a801a", d3.format(".1f"));

// right titles
function rot(xp, yp, size) { return svg.append("text").attr("transform",`translate(${xp},${yp}) rotate(-90)`).attr("text-anchor","middle").attr("font-size",size).attr("fill","#222"); }
rot(682,60,15).text("Precipitation");
rot(694,61,14).text("(mm/day)");
function d18(xp, yp, atm) {
  const t = rot(xp, yp, 15);
  t.append("tspan").text("δ");
  t.append("tspan").attr("dy",-6).attr("font-size",10).text("18");
  t.append("tspan").attr("dy",6).text("O");
  if (atm) { t.append("tspan").attr("dy",4).attr("font-size",10).text("atm"); t.append("tspan").attr("dy",-4).text(" (‰)"); }
  else t.append("tspan").text(" (‰)");
}
d18(686,212); d18(683,388); d18(687,524); d18(687,613,true);

// termination labels
terminations.forEach(([t,ka])=>svg.append("text").attr("x",x(ka)).attr("y",37).attr("text-anchor","middle")
  .style("font-family",SERIF).attr("font-weight","bold").attr("font-size",13).attr("fill","#111").text(t));
// panel labels
[["(A)",P.A.v(4.7)],["(B)",P.B.v(-10)],["(C)",P.C.v(-4)],["(D)",P.D.v(-6.6)],["(E)",P.E.v(0.95)]].forEach(([t,yy],i)=>
  svg.append("text").attr("x",x(i==2?291.5:290)).attr("y",yy).attr("dy","0.35em").attr("text-anchor","middle")
  .style("font-family",SERIF).attr("font-weight","bold").attr("font-size",13).attr("fill","#111").text(t));
// hiatus labels
hiatusLabels.forEach(([t,ka,v])=>svg.append("text").attr("transform",`translate(${x(ka)},${P.C.v(v)}) rotate(-90)`)
  .attr("text-anchor","middle").attr("dy","0.35em").style("font-family",SERIF)
  .attr("font-weight","bold").attr("font-size",12).attr("fill","#1a1aff").text(t));
</script></body></html>
